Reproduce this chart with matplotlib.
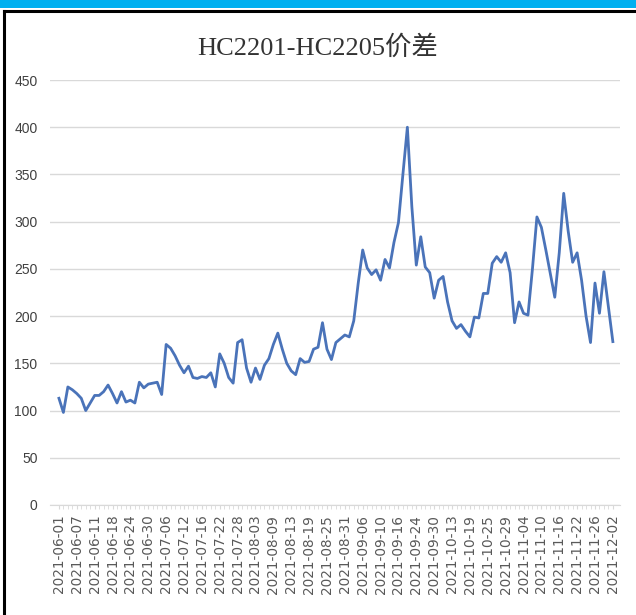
import numpy as np
import pandas as pd
import matplotlib
matplotlib.use("Agg")
import matplotlib.pyplot as plt
from matplotlib.patches import Rectangle
from matplotlib.lines import Line2D

plt.rcParams["font.family"] = ["Liberation Sans", "Noto Sans CJK SC", "DejaVu Sans"]

# trading calendar (exchange holidays removed)
holidays = ["2021-06-14", "2021-09-20", "2021-09-21",
            "2021-10-01", "2021-10-04", "2021-10-05", "2021-10-06", "2021-10-07"]
dates = [d for d in pd.bdate_range("2021-06-01", "2021-12-02") if d.strftime("%Y-%m-%d") not in holidays]
date_labels = [d.strftime("%Y-%m-%d") for d in dates]

spread = [
    113, 98, 125, 122, 118, 113, 100, 108, 116, 116,
    120, 127, 118, 108, 120, 109, 111, 108, 130, 124,
    128, 129, 130, 117, 170, 166, 158, 148, 140, 147,
    135, 134, 136, 135, 140, 125, 160, 150, 135, 129,
    172, 175, 145, 130, 145, 133, 148, 155, 170, 182,
    165, 150, 142, 138, 155, 151, 152, 165, 167, 193,
    165, 154, 172, 176, 180, 178, 195, 235, 270, 251,
    244, 249, 238, 260, 251, 278, 299, 350, 400, 316,
    254, 284, 252, 246, 219, 238, 242, 215, 195, 187,
    191, 184, 178, 199, 198, 224, 224, 256, 263, 257,
    267, 246, 193, 215, 203, 201, 250, 305, 294, 270,
    245, 220, 267, 330, 290, 257, 267, 238, 200, 172,
    235, 203, 247, 210, 173,
]

title = "HC2201-HC2205价差"
yticks = [0, 50, 100, 150, 200, 250, 300, 350, 400, 450]

fig = plt.figure(figsize=(6.36, 6.15), dpi=100)
fig.patch.set_facecolor("white")

# frame decoration: cyan band on top, black border
fig.patches.append(Rectangle((0, 1 - 8 / 615), 1, 8 / 615, transform=fig.transFigure,
                             facecolor="#00b0f0", edgecolor="none"))
fig.lines.append(Line2D([4 / 636, 1], [1 - 11 / 615, 1 - 11 / 615], transform=fig.transFigure,
                        color="black", lw=2.2))
fig.lines.append(Line2D([4 / 636, 4 / 636], [0, 1 - 11 / 615], transform=fig.transFigure,
                        color="black", lw=2.2))

ax = fig.add_axes([50 / 636, 110 / 615, 570 / 636, 425 / 615])
x = np.arange(len(spread))
ax.plot(x, spread, color="#4a73b9", lw=2.0)

ax.set_ylim(0, 450)
ax.set_xlim(-2, len(spread) + 0.6)
ax.set_yticks(yticks)
ax.set_yticklabels([str(v) for v in yticks], fontsize=10, color="#404040")
ax.grid(axis="y", color="#d9d9d9", lw=1)
ax.set_axisbelow(True)

ax.set_xticks(x[::4])
ax.set_xticklabels(date_labels[::4], rotation=90, fontsize=9.8, color="#595959",
                   family="DejaVu Sans")
ax.set_xticks(x, minor=True)
ax.tick_params(axis="x", which="both", length=3, color="#d9d9d9", pad=4)
ax.tick_params(axis="y", length=0, pad=9)

for s in ["top", "right", "left"]:
    ax.spines[s].set_visible(False)
ax.spines["bottom"].set_color("#d9d9d9")

fig.text(0.5, 1 - 47 / 615, title, ha="center", va="center", fontsize=19,
         family=["Liberation Serif", "Noto Sans CJK SC"], color="#333333")

fig.savefig("out.png", dpi=100)
